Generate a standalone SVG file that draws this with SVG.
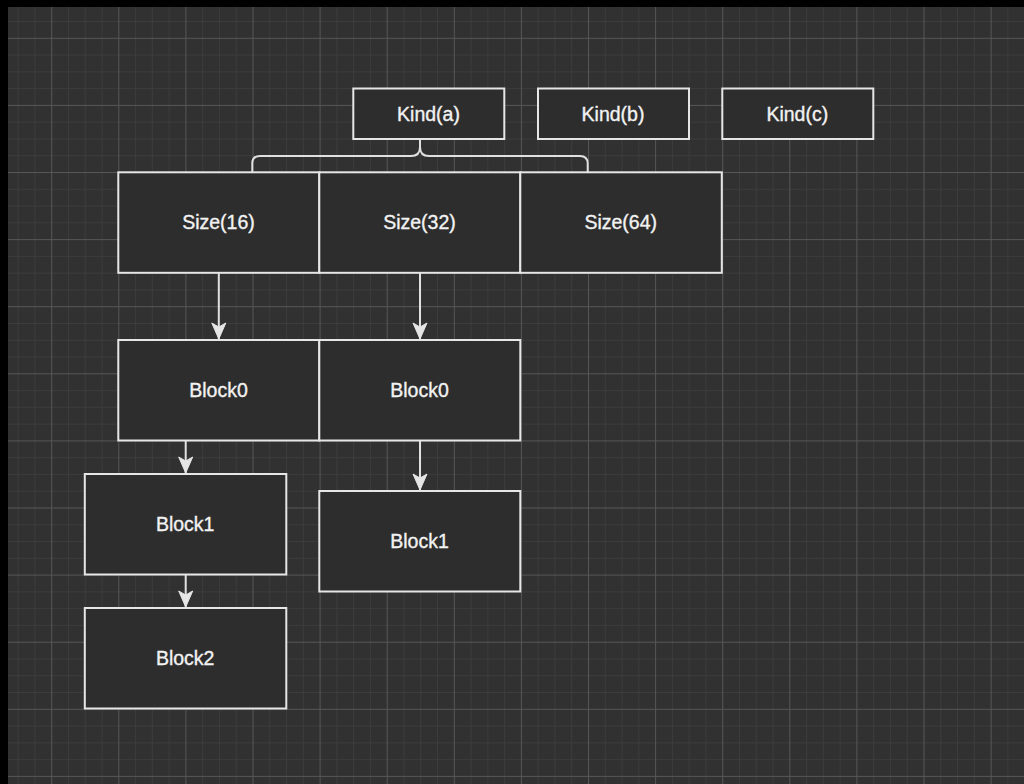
<svg xmlns="http://www.w3.org/2000/svg" width="1024" height="784" viewBox="0 0 1024 784">
  <defs>
    <pattern id="grid" x="51.2" y="37.8" width="67.1" height="67.1" patternUnits="userSpaceOnUse">
      <rect width="67.1" height="67.1" fill="#313131"/>
      <g fill="#3c3c3c">
        <rect x="16.775" y="0" width="1" height="67.1"/>
        <rect x="33.55" y="0" width="1" height="67.1"/>
        <rect x="50.325" y="0" width="1" height="67.1"/>
        <rect x="0" y="16.775" width="67.1" height="1"/>
        <rect x="0" y="33.55" width="67.1" height="1"/>
        <rect x="0" y="50.325" width="67.1" height="1"/>
      </g>
      <g fill="#565656">
        <rect x="0" y="0" width="1" height="67.1"/>
        <rect x="0" y="0" width="67.1" height="1"/>
      </g>
    </pattern>
    <marker id="arrow" markerUnits="userSpaceOnUse" markerWidth="18" markerHeight="18" viewBox="-17 -9 18 18" refX="0" refY="0" orient="auto">
      <path d="M0,0 L-16,-7 L-12,0 L-16,7 Z" fill="#e6e6e6" stroke="#e6e6e6" stroke-width="1" stroke-linejoin="miter"/>
    </marker>
    <style>
      .box { fill: #2d2d2d; stroke: #e6e6e6; stroke-width: 2; }
      .label { font-family: "Liberation Sans", Arial, Helvetica, sans-serif; font-size: 19.5px; fill: #f2f2f2; stroke: #f2f2f2; stroke-width: 0.35; text-anchor: middle; }
      .edge { fill: none; stroke: #e0e0e0; stroke-width: 2; }
    </style>
  </defs>

  <!-- canvas -->
  <rect width="1024" height="784" fill="#000000"/>
  <rect x="8" y="7" width="1016" height="777" fill="url(#grid)"/>

  <!-- connectors -->
  <g id="connectors">
    <path id="brace" class="edge" d="M252.3,172 V163.5 Q252.3,156 260,156 H411 Q420,156 420,147 V139.5 M420,147 Q420,156 429,156 H580 Q587.7,156 587.7,163.5 V172"/>
    <line class="edge" x1="218.8" y1="273" x2="218.8" y2="339" marker-end="url(#arrow)"/>
    <line class="edge" x1="420" y1="273" x2="420" y2="339" marker-end="url(#arrow)"/>
    <line class="edge" x1="185.7" y1="441" x2="185.7" y2="473" marker-end="url(#arrow)"/>
    <line class="edge" x1="185.7" y1="575" x2="185.7" y2="607" marker-end="url(#arrow)"/>
    <line class="edge" x1="420" y1="441" x2="420" y2="490" marker-end="url(#arrow)"/>
  </g>

  <!-- kinds -->
  <g id="kind-a">
    <rect class="box" x="353.3" y="88.5" width="151" height="50.5"/>
    <text class="label" x="428.5" y="120.5">Kind(a)</text>
  </g>
  <g id="kind-b">
    <rect class="box" x="538" y="88.5" width="151" height="50.5"/>
    <text class="label" x="613" y="120.5">Kind(b)</text>
  </g>
  <g id="kind-c">
    <rect class="box" x="722.3" y="88.5" width="151" height="50.5"/>
    <text class="label" x="797.3" y="120.5">Kind(c)</text>
  </g>

  <!-- sizes -->
  <g id="size-16">
    <rect class="box" x="118.3" y="172.3" width="201" height="100.5"/>
    <text class="label" x="218.5" y="229.2">Size(16)</text>
  </g>
  <g id="size-32">
    <rect class="box" x="319.3" y="172.3" width="201" height="100.5"/>
    <text class="label" x="419.5" y="229.2">Size(32)</text>
  </g>
  <g id="size-64">
    <rect class="box" x="520.3" y="172.3" width="201.5" height="100.5"/>
    <text class="label" x="620.7" y="229.2">Size(64)</text>
  </g>

  <!-- blocks for size 16 -->
  <g id="block0-16">
    <rect class="box" x="118.3" y="340" width="201" height="100.5"/>
    <text class="label" x="218.5" y="396.9">Block0</text>
  </g>
  <g id="block1-16">
    <rect class="box" x="84.8" y="474" width="201.5" height="100.5"/>
    <text class="label" x="185.2" y="530.9">Block1</text>
  </g>
  <g id="block2-16">
    <rect class="box" x="84.8" y="608" width="201.5" height="100.5"/>
    <text class="label" x="185.2" y="664.9">Block2</text>
  </g>

  <!-- blocks for size 32 -->
  <g id="block0-32">
    <rect class="box" x="319.3" y="340" width="201" height="100.5"/>
    <text class="label" x="419.5" y="396.9">Block0</text>
  </g>
  <g id="block1-32">
    <rect class="box" x="319.3" y="491" width="201" height="100.5"/>
    <text class="label" x="419.5" y="547.9">Block1</text>
  </g>
</svg>
